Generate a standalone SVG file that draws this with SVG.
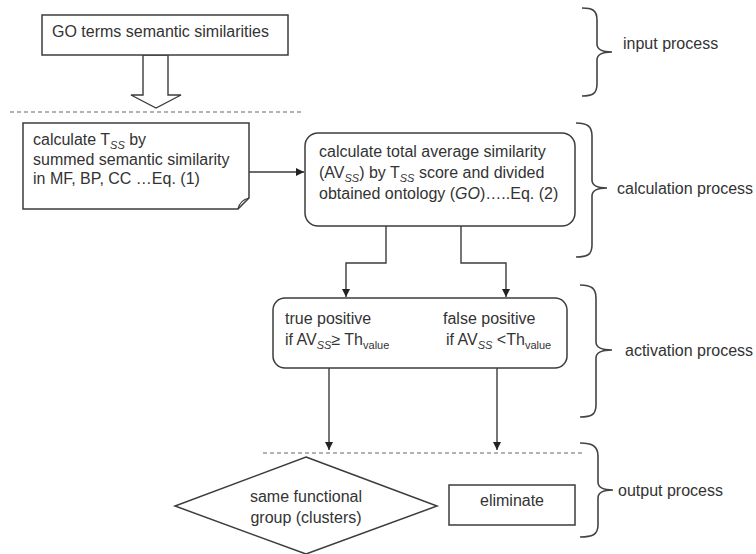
<svg xmlns="http://www.w3.org/2000/svg" width="756" height="554" viewBox="0 0 756 554">
<style>
  .box { fill: #ffffff; stroke: #3c3c3c; stroke-width: 1.5; }
  .t { font-family: "Liberation Sans", Arial, sans-serif; font-size: 16px; fill: #333333; }
  .sub { font-size: 11px; font-style: italic; }
  .subn { font-size: 11px; }
  .conn { fill: none; stroke: #3c3c3c; stroke-width: 1.4; }
  .dash { fill: none; stroke: #999999; stroke-width: 1.3; stroke-dasharray: 4 3; }
  .brace { fill: none; stroke: #444444; stroke-width: 1.6; }
</style>
<defs>
  <marker id="ah" markerUnits="userSpaceOnUse" markerWidth="9" markerHeight="9" refX="8" refY="4" orient="auto">
    <path d="M0,0 L8,4 L0,8 Z" fill="#222222"/>
  </marker>
</defs>
<rect width="756" height="554" fill="#ffffff"/>

<g id="separators">
  <line class="dash" x1="10" y1="112" x2="302" y2="112"/>
  <line class="dash" x1="263" y1="453" x2="582" y2="453"/>
</g>

<g id="connectors">
  <polygon points="143,55 168,55 168,95 181,95 156,108 131,95 143,95" fill="#ffffff" stroke="#3c3c3c" stroke-width="1.4"/>
  <path class="conn" d="M249,172 H304" marker-end="url(#ah)"/>
  <path class="conn" d="M386,226 V263 H346 V297" marker-end="url(#ah)"/>
  <path class="conn" d="M461,226 V263 H506 V297" marker-end="url(#ah)"/>
  <path class="conn" d="M329,368 V450" marker-end="url(#ah)"/>
  <path class="conn" d="M497,368 V450" marker-end="url(#ah)"/>
</g>

<g id="go-terms">
  <rect class="box" x="42" y="15" width="246" height="40"/>
  <text class="t" x="52" y="37">GO terms semantic similarities</text>
</g>

<g id="calc-tss">
  <path class="box" d="M23,123 H249 V198 L238,209 H23 Z"/>
  <path d="M238,209 Q240,200 249,198" fill="none" stroke="#3c3c3c" stroke-width="1.2"/>
  <text class="t" x="33" y="145">calculate T<tspan class="sub" dy="4">SS</tspan><tspan dy="-4"> by</tspan></text>
  <text class="t" x="33" y="165">summed semantic similarity</text>
  <text class="t" x="33" y="184">in MF, BP, CC …Eq. (1)</text>
</g>

<g id="calc-avss">
  <rect class="box" x="305" y="133" width="270" height="93" rx="13" ry="13"/>
  <text class="t" x="319" y="157">calculate total average similarity</text>
  <text class="t" x="319" y="178">(AV<tspan class="sub" dy="4">SS</tspan><tspan dy="-4">) by T</tspan><tspan class="sub" dy="4">SS</tspan><tspan dy="-4"> score and divided</tspan></text>
  <text class="t" x="319" y="199">obtained ontology (<tspan font-style="italic">GO</tspan>)…..Eq. (2)</text>
</g>

<g id="activation">
  <rect class="box" x="273" y="298" width="294" height="70" rx="12" ry="12"/>
  <text class="t" x="285" y="324">true positive</text>
  <text class="t" x="285" y="345">if AV<tspan class="sub" dy="4">SS</tspan><tspan dy="-4">≥ Th</tspan><tspan class="subn" dy="4">value</tspan></text>
  <text class="t" x="443" y="324">false positive</text>
  <text class="t" x="446" y="345">if AV<tspan class="sub" dy="4">SS</tspan><tspan dy="-4"> &lt;Th</tspan><tspan class="subn" dy="4">value</tspan></text>
</g>

<g id="same-group">
  <polygon class="box" points="306,457 437,506 306,554 175,506"/>
  <text class="t" x="306" y="502" text-anchor="middle">same functional</text>
  <text class="t" x="306" y="523" text-anchor="middle">group (clusters)</text>
</g>

<g id="eliminate">
  <rect class="box" x="449" y="485" width="126" height="40"/>
  <text class="t" x="512" y="506" text-anchor="middle">eliminate</text>
</g>

<g id="braces">
  <path class="brace" d="M582,8 C592,8 597,10 597,20 V44 C597,50 603,52 612,52 C603,52 597,54 597,60 V84 C597,94 592,96 582,96"/>
  <text class="t" x="623" y="49">input process</text>
  <path class="brace" d="M576,123 C587,123 592,126 592,136 V180 C592,186 598,188 607,188 C598,188 592,190 592,196 V245 C592,255 587,257 576,257"/>
  <text class="t" x="617" y="194">calculation process</text>
  <path class="brace" d="M580,285 C591,285 596,288 596,298 V342 C596,348 602,350 612,350 C602,350 596,352 596,358 V405 C596,415 591,417 580,417"/>
  <text class="t" x="625" y="356">activation process</text>
  <path class="brace" d="M580,443 C592,443 598,446 598,456 V482 C598,488 604,490 613,490 C604,490 598,492 598,498 V525 C598,535 592,537 580,537"/>
  <text class="t" x="618" y="496">output process</text>
</g>
</svg>
